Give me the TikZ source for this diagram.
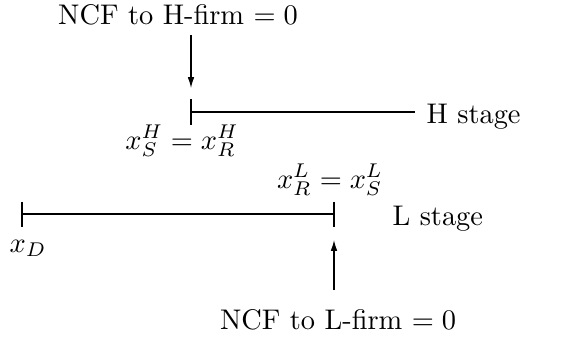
\documentclass[tikz,border=0pt]{standalone}
\usetikzlibrary{arrows.meta}
\begin{document}
\begin{tikzpicture}[x=0.352pt,y=-0.352pt,
  lbl/.style={inner sep=0pt},
  stageline/.style={line width=0.4pt},
  arr/.style={line width=0.4pt,-{Latex[length=3.8pt,width=2.3pt]}}]
\useasboundingbox (0,0) rectangle (579,341);
% H stage
\node[lbl] (ncfH) at (178,15) {NCF to H-firm $=0$};
\coordinate (aHs) at (191,35);
\coordinate (aHe) at (191,88);
\draw[arr] (aHs) -- (aHe);
\coordinate (hA) at (191,112);
\coordinate (hB) at (415,112);
\coordinate (hT1) at (191,99);
\coordinate (hT2) at (191,125);
\draw[stageline] (hA) -- (hB);
\draw[stageline] (hT1) -- (hT2);
\node[lbl,anchor=west] (Hst) at (426,117) {H stage};
\node[lbl] (xH) at (182,141) {$x_S^H = x_R^H$};
% L stage
\coordinate (lA) at (22,214);
\coordinate (lB) at (334,214);
\draw[stageline] (lA) -- (lB);
\draw[stageline] (22,202) coordinate (lT1) -- (22,227) coordinate (lT2);
\draw[stageline] (334,202) coordinate (lT3) -- (334,227) coordinate (lT4);
\node[lbl,anchor=west] (Lst) at (392,219) {L stage};
\node[lbl] (xL) at (330,180) {$x_R^L = x_S^L$};
\node[lbl] (xD) at (28,248) {$x_D$};
\coordinate (aLs) at (334,290);
\coordinate (aLe) at (334,240);
\draw[arr] (aLs) -- (aLe);
\node[lbl] (ncfL) at (338,320) {NCF to L-firm $=0$};
\end{tikzpicture}
\end{document}
